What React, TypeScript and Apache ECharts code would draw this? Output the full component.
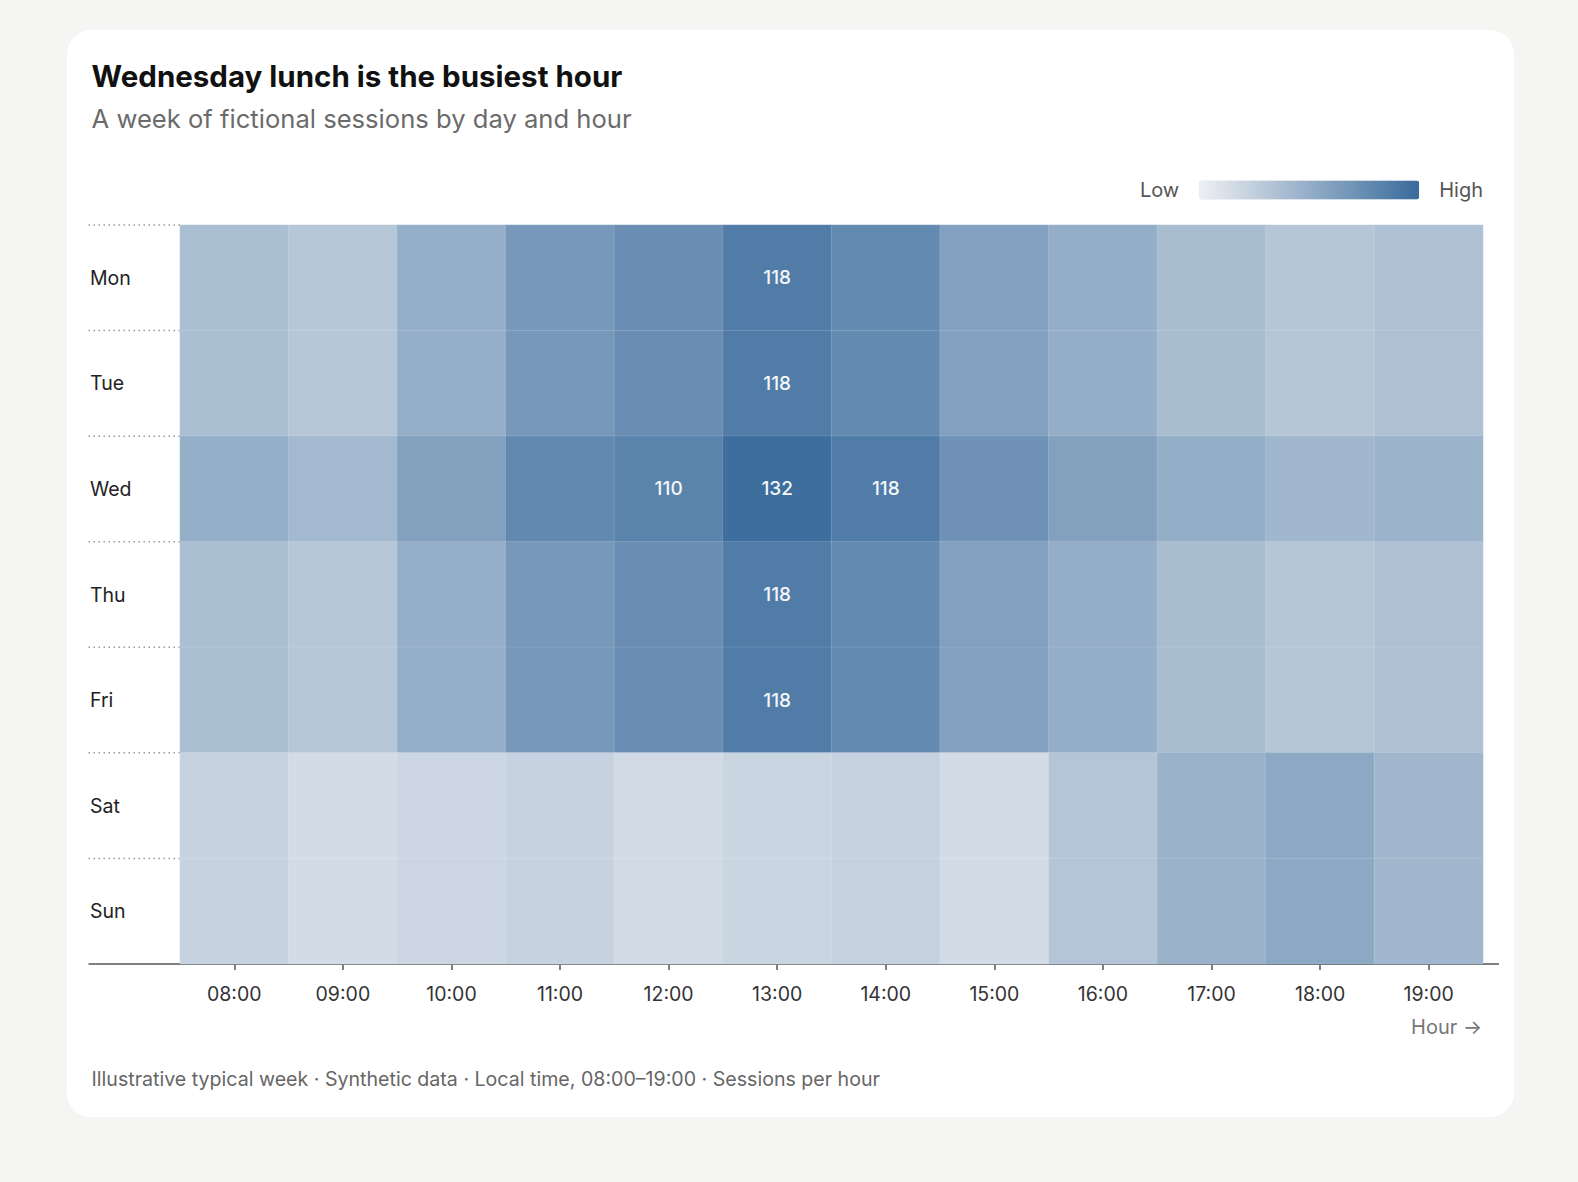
import React, { useRef, useEffect } from 'react';
import * as echarts from 'echarts';

const hours = ['08:00', '09:00', '10:00', '11:00', '12:00', '13:00', '14:00', '15:00', '16:00', '17:00', '18:00', '19:00'];
const days = ['Mon', 'Tue', 'Wed', 'Thu', 'Fri', 'Sat', 'Sun'];

// sessions per hour
const mon = [50, 42, 66, 89, 99, 118, 104, 81, 67, 52, 43, 48];
const tue = [50, 42, 66, 89, 99, 118, 104, 81, 67, 52, 43, 48];
const wed = [66, 56, 80, 105, 110, 132, 118, 95, 80, 67, 58, 62];
const thu = [50, 42, 66, 89, 99, 118, 104, 81, 67, 52, 43, 48];
const fri = [50, 42, 66, 89, 99, 118, 104, 81, 67, 52, 43, 48];
const sat = [30, 20, 26, 30, 21, 27, 31, 20, 44, 63, 73, 59];
const sun = [30, 20, 26, 30, 21, 27, 31, 20, 44, 63, 73, 59];

const rows = [mon, tue, wed, thu, fri, sat, sun];
const labelThreshold = 110;

const FONT = 'Inter, "Noto Sans", sans-serif';
const W = 1447;
const H = 1087;
const GRID = { left: 113, right: 31, top: 195, bottom: 153 };

const App: React.FC = () => {
  const chartRef = useRef<HTMLDivElement>(null);

  useEffect(() => {
    if (!chartRef.current) return;
    const chart = echarts.init(chartRef.current, null, { renderer: 'svg' });

    const data: number[][] = [];
    rows.forEach((row, d) => row.forEach((v, h) => data.push([h, d, v])));

    // dotted separators to the left of the cells
    const plotH = H - GRID.top - GRID.bottom;
    const rowH = plotH / days.length;
    const seps = days.map((_, i) => ({
      type: 'line',
      silent: true,
      shape: { x1: 21.5, y1: GRID.top + i * rowH, x2: GRID.left, y2: GRID.top + i * rowH },
      style: { stroke: '#9a9a9a', lineWidth: 1.5, lineDash: [1.5, 3.5] },
    }));

    chart.setOption({
      animation: false,
      textStyle: { fontFamily: FONT },
      grid: GRID,
      xAxis: {
        type: 'category',
        data: hours,
        axisLine: { show: true, lineStyle: { color: '#555', width: 1.5 } },
        axisTick: { show: true, alignWithLabel: true, length: 6, lineStyle: { color: '#555', width: 1.5 } },
        axisLabel: { color: '#333', fontSize: 19.5, margin: 20, fontFamily: FONT },
        splitLine: { show: false },
      },
      yAxis: {
        type: 'category',
        data: days,
        inverse: true,
        axisLine: { show: false },
        axisTick: { show: false },
        splitLine: { show: false },
        axisLabel: { color: '#222', fontSize: 19.5, align: 'left', margin: 90, fontFamily: FONT },
      },
      visualMap: {
        type: 'continuous',
        min: 0,
        max: 135,
        orient: 'horizontal',
        right: 16,
        top: 135,
        itemWidth: 19,
        itemHeight: 220,
        text: ['High', 'Low'],
        textGap: 20,
        calculable: false,
        hoverLink: false,
        textStyle: { color: '#555', fontSize: 20, fontFamily: FONT },
        inRange: { color: ['#eef0f3', '#3a6b9c'] },
      },
      graphic: [
        {
          type: 'text',
          x: 24.6,
          y: 45.5,
          style: { text: 'Wednesday lunch is the busiest hour', font: `bold 29.5px ${FONT}`, fill: '#111', verticalAlign: 'middle' },
        },
        {
          type: 'text',
          x: 24.6,
          y: 88.7,
          style: { text: 'A week of fictional sessions by day and hour', font: `25.6px ${FONT}`, fill: '#6b6b6b', verticalAlign: 'middle' },
        },
        {
          type: 'text',
          x: W - GRID.right - 1,
          y: 996.5,
          style: { text: 'Hour →', font: `20px ${FONT}`, fill: '#777', align: 'right', verticalAlign: 'middle' },
        },
        {
          type: 'text',
          x: 24.6,
          y: 1049,
          style: {
            text: 'Illustrative typical week · Synthetic data · Local time, 08:00–19:00 · Sessions per hour',
            font: `19.6px ${FONT}`,
            fill: '#666',
            verticalAlign: 'middle',
          },
        },
        ...seps,
        {
          type: 'line',
          silent: true,
          shape: { x1: 21.5, y1: H - GRID.bottom, x2: 1432, y2: H - GRID.bottom },
          style: { stroke: '#555', lineWidth: 1.5 },
        },
      ],
      series: [
        {
          type: 'heatmap',
          data,
          itemStyle: { borderColor: 'rgba(255,255,255,0.12)', borderWidth: 1 },
          label: {
            show: true,
            color: '#f3f6f9',
            fontSize: 19,
            fontWeight: 500,
            fontFamily: FONT,
            formatter: (p: any) => (p.value[2] >= labelThreshold ? String(p.value[2]) : ''),
          },
          emphasis: { disabled: true },
        },
      ],
    });

    return () => {
      chart.dispose();
    };
  }, []);

  return (
    <div
      style={{
        position: 'fixed',
        left: 0,
        top: 0,
        width: 1578,
        height: 1182,
        background: '#f5f5f3',
        overflow: 'hidden',
      }}
    >
      <div
        style={{
          position: 'absolute',
          left: 67,
          top: 30,
          width: W,
          height: H,
          background: '#fff',
          borderRadius: 24,
          overflow: 'hidden',
        }}
      >
        <div ref={chartRef} style={{ width: W, height: H }} />
      </div>
    </div>
  );
};

export default App;
